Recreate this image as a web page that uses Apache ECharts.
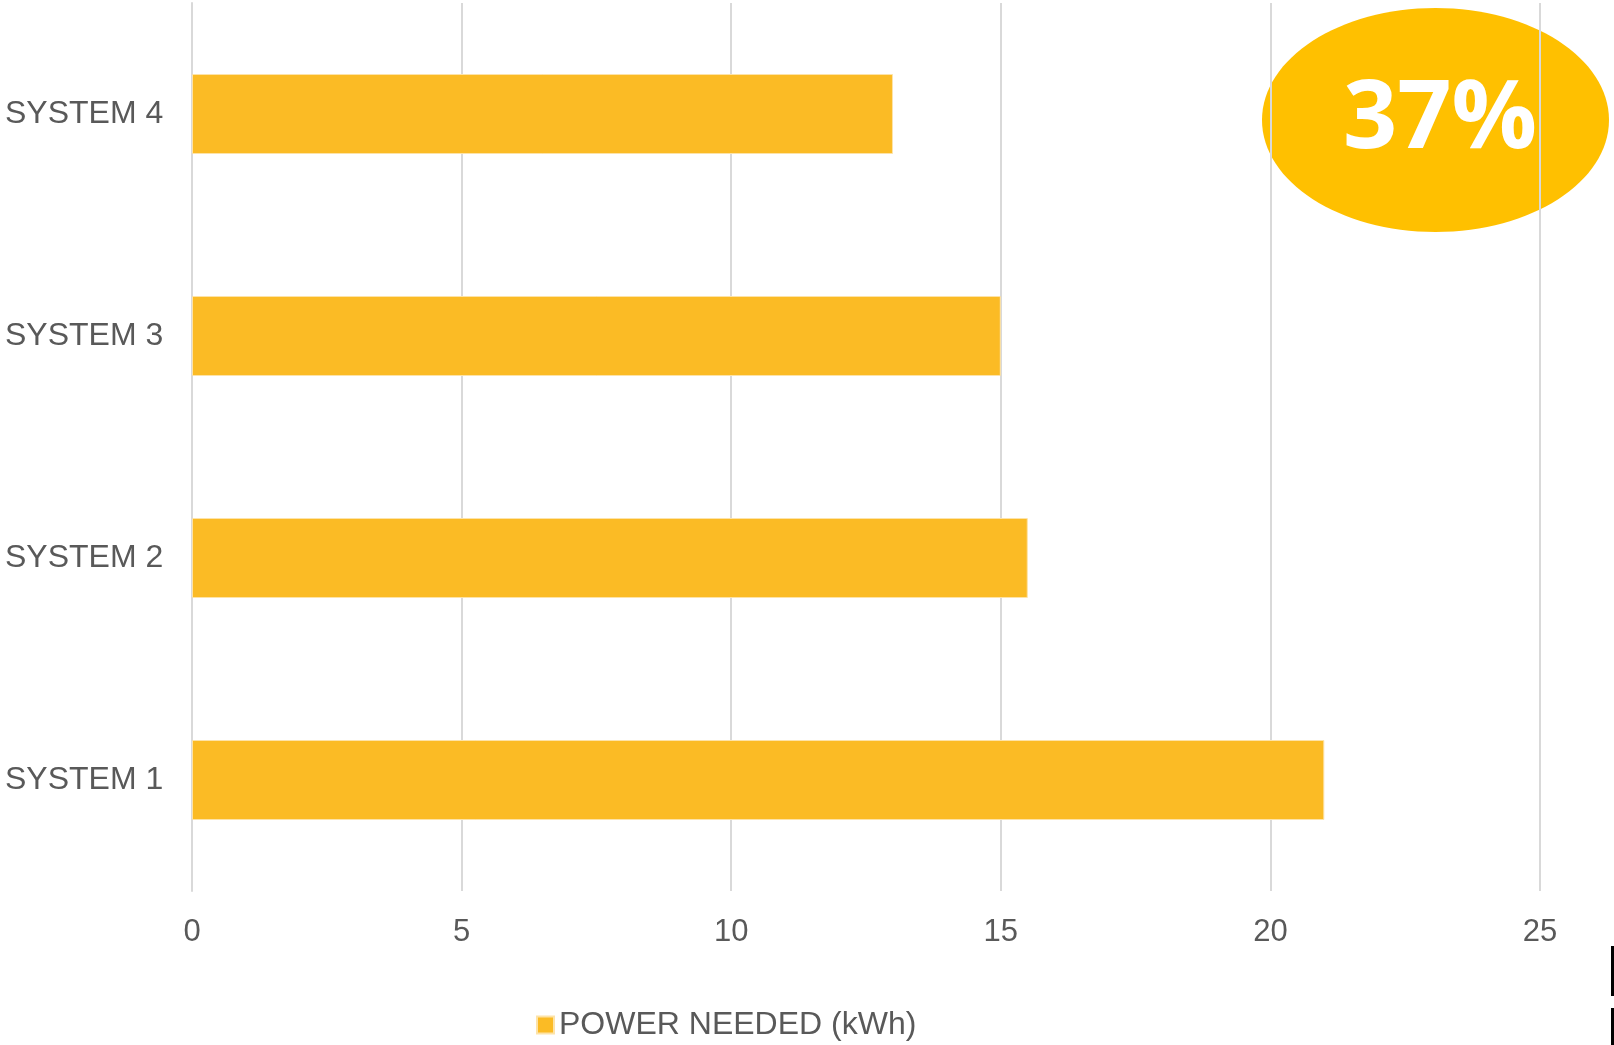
<!DOCTYPE html>
<html>
<head>
<meta charset="utf-8">
<script src="https://cdn.jsdelivr.net/npm/echarts@6/dist/echarts.min.js"></script>
<style>
html,body{margin:0;padding:0;background:#fff;}
#chart{width:1614px;height:1045px;}
</style>
</head>
<body>
<div id="chart"></div>
<script>
const categories = ['SYSTEM 1', 'SYSTEM 2', 'SYSTEM 3', 'SYSTEM 4'];
const powerNeeded = [21, 15.5, 15, 13];
const seriesName = 'POWER NEEDED (kWh)';
const badgeText = '37%';

const chart = echarts.init(document.getElementById('chart'));
chart.setOption({
  animation: false,
  backgroundColor: '#ffffff',
  grid: { left: 192, right: 74, top: 3, bottom: 154, containLabel: false },
  legend: {
    data: [seriesName],
    bottom: -1,
    left: 531,
    itemWidth: 17,
    itemHeight: 17,
    itemGap: 8,
    icon: 'rect',
    textStyle: { color: '#595959', fontSize: 32, fontFamily: 'Liberation Sans, Arial, sans-serif' }
  },
  xAxis: {
    type: 'value',
    min: 0, max: 25, interval: 5,
    axisLine: { show: false },
    axisTick: { show: false },
    splitLine: { show: true, lineStyle: { color: '#d9d9d9', width: 2 } },
    axisLabel: { color: '#595959', fontSize: 31, margin: 26, fontFamily: 'Liberation Sans, Arial, sans-serif' }
  },
  yAxis: {
    type: 'category',
    data: categories,
    axisLine: { show: true, lineStyle: { color: '#d9d9d9', width: 2 } },
    axisTick: { show: false },
    axisLabel: { color: '#595959', fontSize: 32, align: 'left', margin: 187, fontFamily: 'Liberation Sans, Arial, sans-serif' }
  },
  series: [{
    name: seriesName,
    type: 'bar',
    data: powerNeeded,
    barWidth: 80,
    itemStyle: { color: '#FBBB25', borderColor: '#FDE3A8', borderWidth: 1 }
  }],
  graphic: [
    { type: 'ellipse', z: -10, shape: { cx: 1435.5, cy: 120, rx: 173.5, ry: 112 }, style: { fill: '#FFC000' } },
    { type: 'text', z: 100, x: 1440, y: 121, style: { text: badgeText, fill: '#ffffff', font: 'bold 95px "Open Sans", sans-serif', textAlign: 'center', textVerticalAlign: 'middle' } },
    { type: 'rect', z: 100, shape: { x: 1611, y: 946, width: 3, height: 50 }, style: { fill: '#000000' } },
    { type: 'rect', z: 100, shape: { x: 1611, y: 1008, width: 3, height: 37 }, style: { fill: '#000000' } }
  ]
});
</script>
</body>
</html>
